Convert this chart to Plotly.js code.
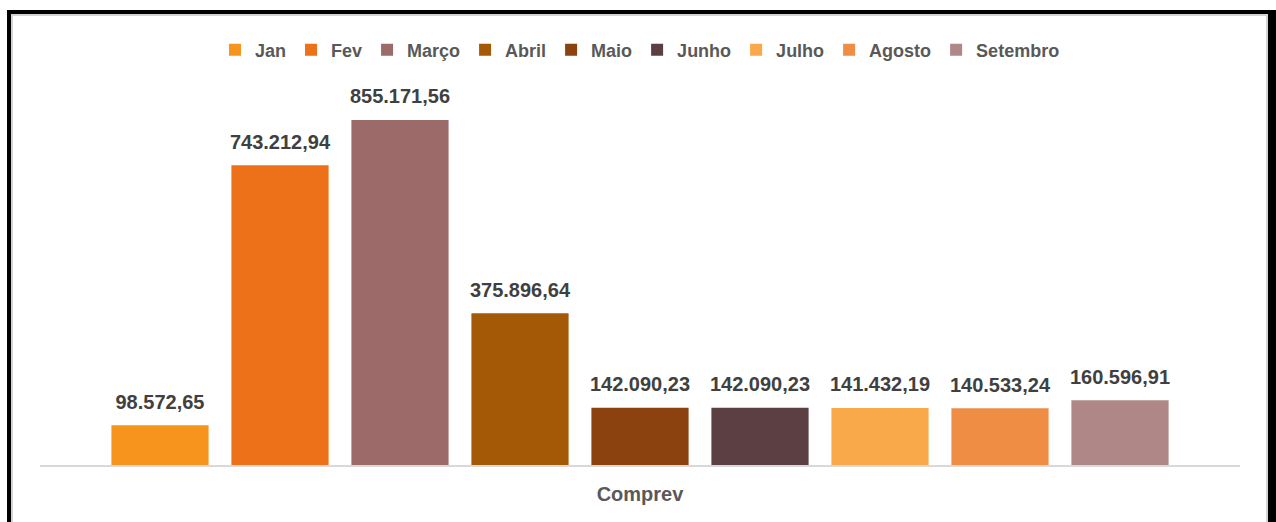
<!DOCTYPE html>
<html>
<head>
<meta charset="utf-8">
<script src="https://cdn.plot.ly/plotly-3.0.1.min.js"></script>
<style>
  html, body { margin: 0; padding: 0; background: #ffffff; overflow: hidden; }
  #chart { position: absolute; left: 0; top: 0; width: 1276px; height: 522px; }
  #frame { position: absolute; left: 7px; top: 10px; width: 1257px; height: 600px;
           border-left: 4px solid #000; border-top: 4px solid #000; border-right: 8px solid #000;
           pointer-events: none; }
  #inner { position: absolute; left: 0; top: 0; right: 0; bottom: 0;
           border-left: 2px solid #d4d4d4; border-top: 2px solid #d4d4d4; border-right: 2px solid #d4d4d4; }
</style>
</head>
<body>
<div id="chart"></div>
<div id="frame"><div id="inner"></div></div>
<script>
const category = ['Comprev'];
const seriesNames = ['Jan', 'Fev', 'Março', 'Abril', 'Maio', 'Junho', 'Julho', 'Agosto', 'Setembro'];
const seriesValues = [98572.65, 743212.94, 855171.56, 375896.64, 142090.23, 142090.23, 141432.19, 140533.24, 160596.91];
const seriesColors = ['#F7941E', '#EC7118', '#9D6A6A', '#A35905', '#8C420E', '#5C3F42', '#F9A84A', '#EF8D45', '#B08787'];

const bars = seriesNames.map((name, i) => ({
  type: 'bar',
  name: name,
  x: category,
  y: [seriesValues[i]],
  offsetgroup: 'g' + i,
  marker: { color: seriesColors[i] },
  hoverinfo: 'skip'
}));

const labels = seriesNames.map((name, i) => ({
  type: 'scatter',
  mode: 'markers+text',
  name: name + ' label',
  showlegend: false,
  x: category,
  y: [seriesValues[i]],
  offsetgroup: 'g' + i,
  marker: { size: 17, opacity: 0, color: seriesColors[i] },
  texttemplate: '%{y:,.2f}',
  textposition: 'top center',
  cliponaxis: false,
  textfont: { family: 'Liberation Sans, Arial, sans-serif', size: 20, color: '#404040', weight: 'bold' },
  hoverinfo: 'skip'
}));

const layout = {
  width: 1276,
  height: 522,
  paper_bgcolor: '#ffffff',
  plot_bgcolor: '#ffffff',
  separators: ',.',
  margin: { l: 40, r: 36, t: 100, b: 57 },
  barmode: 'group',
  bargap: 0.1,
  bargroupgap: 0.19,
  scattermode: 'group',
  scattergap: 0.1,
  showlegend: true,
  legend: {
    orientation: 'h',
    x: 0.5, xanchor: 'center',
    y: 1.137, yanchor: 'middle',
    itemwidth: 30,
    traceorder: 'normal',
    font: { family: 'Liberation Sans, Arial, sans-serif', size: 18, color: '#595959', weight: 'bold' }
  },
  xaxis: {
    type: 'category',
    showline: true,
    linecolor: '#d9d9d9',
    linewidth: 2,
    ticks: '',
    showgrid: false,
    ticklabelstandoff: 10,
    tickfont: { family: 'Liberation Sans, Arial, sans-serif', size: 20, color: '#595959', weight: 'bold' }
  },
  yaxis: {
    range: [0, 904747],
    visible: false,
    showgrid: false,
    zeroline: false
  }
};

Plotly.newPlot('chart', bars.concat(labels), layout, { staticPlot: true, displayModeBar: false });
</script>
</body>
</html>
